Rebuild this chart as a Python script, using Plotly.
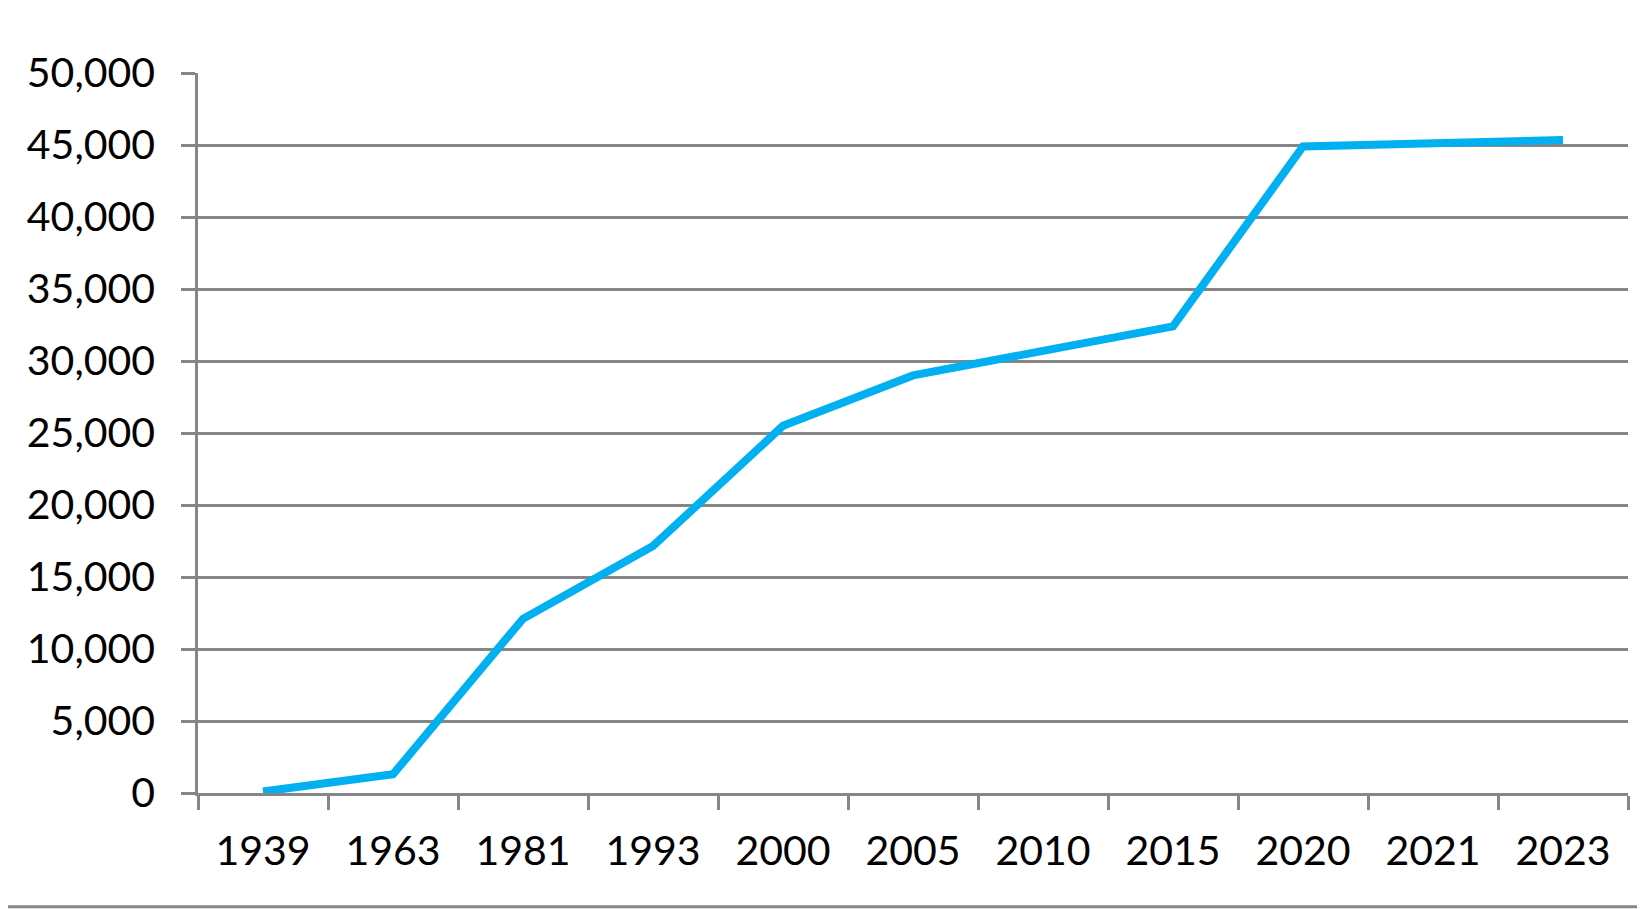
import plotly.graph_objects as go

years = ["1939", "1963", "1981", "1993", "2000", "2005", "2010", "2015", "2020", "2021", "2023"]
values = [100, 1300, 12100, 17150, 25500, 29000, 30700, 32400, 44900, 45100, 45350]
y_ticks = [0, 5000, 10000, 15000, 20000, 25000, 30000, 35000, 40000, 45000, 50000]
y_tick_labels = ["0", "5,000", "10,000", "15,000", "20,000", "25,000", "30,000",
                 "35,000", "40,000", "45,000", "50,000"]

GRAY = "#868686"
FONT = "Lato"

fig = go.Figure()
fig.add_trace(go.Scatter(
    x=years, y=values, mode="lines",
    line=dict(color="#00B0F0", width=8),
    hoverinfo="x+y",
))

fig.update_layout(
    width=1637, height=901,
    margin=dict(l=190, r=17, t=65, b=116),
    paper_bgcolor="white", plot_bgcolor="white",
    showlegend=False,
    font=dict(family=FONT, size=41, color="black"),
    xaxis=dict(
        type="category", range=[-0.5, 10.5],
        showgrid=False, showline=True, linecolor=GRAY, linewidth=2.5,
        ticks="outside", ticklen=14, tickwidth=2.5, tickcolor=GRAY,
        tickson="boundaries", ticklabelstandoff=20,
        tickfont=dict(family=FONT, size=41, color="black"),
        zeroline=False,
    ),
    yaxis=dict(
        range=[0, 50000], tickvals=y_ticks, ticktext=y_tick_labels,
        showgrid=True, gridcolor=GRAY, gridwidth=2.5,
        showline=True, linecolor=GRAY, linewidth=2.5,
        ticks="outside", ticklen=14, tickwidth=2.5, tickcolor=GRAY,
        ticklabelstandoff=18,
        tickfont=dict(family=FONT, size=41, color="black"),
        zeroline=False,
    ),
    shapes=[dict(
        type="line", xref="paper", yref="paper",
        x0=-0.14, x1=1.02, y0=-0.158, y1=-0.158,
        line=dict(color=GRAY, width=3),
    )],
)

fig.write_html("out.html")
